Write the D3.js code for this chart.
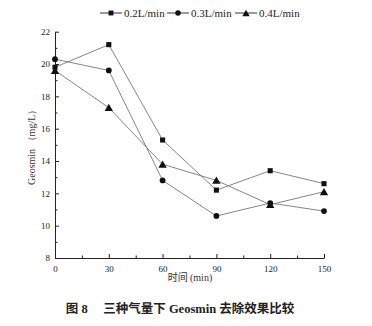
<!DOCTYPE html>
<html><head><meta charset="utf-8">
<script src="https://cdn.jsdelivr.net/npm/d3@7"></script>
<style>body{margin:0;background:#fff}svg{display:block}</style>
</head><body>
<script>
const times = [0, 30, 60, 90, 120, 150];
const seriesNames = ["0.2L/min", "0.3L/min", "0.4L/min"];
const s02 = [19.8, 21.2, 15.3, 12.2, 13.4, 12.6];
const s03 = [20.3, 19.6, 12.8, 10.6, 11.4, 10.9];
const s04 = [19.6, 17.3, 13.8, 12.8, 11.3, 12.1];
const symbols = [d3.symbolSquare, d3.symbolCircle, d3.symbolTriangle];
const yTicks = [8, 10, 12, 14, 16, 18, 20, 22];
const xTicks = [0, 30, 60, 90, 120, 150];
const series = [s02, s03, s04];

const W = 372, H = 326;
const svg = d3.select("body").append("svg").attr("width", W).attr("height", H);
const x = d3.scaleLinear().domain([0, 150]).range([55, 324]);
const y = d3.scaleLinear().domain([8, 22]).range([258, 31.7]);
const serif = "'Liberation Serif','Times New Roman',serif";
const cjk = "'Noto Sans CJK SC',sans-serif";

// axes
svg.append("g").attr("transform", `translate(0,${y(8)})`)
  .call(d3.axisBottom(x).tickValues(xTicks).tickSizeInner(-4).tickSizeOuter(0).tickPadding(8));
svg.append("g").attr("transform", `translate(0,${y(8)})`)
  .call(d3.axisBottom(x).tickValues(d3.range(15, 150, 30)).tickSizeInner(-2.5).tickSizeOuter(0).tickFormat(""))
  .select(".domain").remove();
const yAxis = svg.append("g").attr("transform", `translate(${x(0)},0)`)
  .call(d3.axisLeft(y).tickValues(yTicks).tickSizeInner(-4).tickSizeOuter(0).tickPadding(8));
svg.append("g").attr("transform", `translate(${x(0)},0)`)
  .call(d3.axisLeft(y).tickValues(d3.range(9, 22, 2)).tickSizeInner(-2.5).tickSizeOuter(0).tickFormat(""))
  .select(".domain").remove();
svg.selectAll(".tick text").attr("font-family", serif).attr("font-size", 9).attr("fill", "#222");
svg.selectAll(".domain, .tick line").attr("stroke", "#222").attr("stroke-width", 1);
yAxis.selectAll(".tick text").attr("dx", 3);

// lines
const line = d3.line().x((d, i) => x(times[i])).y(d => y(d));
series.forEach((s) => {
  svg.append("path").attr("d", line(s)).attr("fill", "none").attr("stroke", "#777").attr("stroke-width", 0.9);
});
series.forEach((s, k) => {
  const sym = d3.symbol().type(symbols[k]).size(k === 2 ? 30 : 26);
  svg.selectAll(null).data(s).enter().append("path")
    .attr("d", sym)
    .attr("transform", (d, i) => `translate(${x(times[i])},${y(d) + (k === 2 ? 1 : 0)})`)
    .attr("fill", "#111");
});

// legend
const legX = [100, 167, 235];
seriesNames.forEach((n, k) => {
  const g = svg.append("g").attr("transform", `translate(${legX[k]},13)`);
  g.append("line").attr("x1", 0).attr("x2", 22).attr("y1", 0).attr("y2", 0).attr("stroke", "#333").attr("stroke-width", 1);
  g.append("path").attr("d", d3.symbol().type(symbols[k]).size(24)).attr("transform", `translate(11,${k === 2 ? 1 : 0})`).attr("fill", "#111");
  g.append("text").attr("x", 24).attr("y", 4).attr("font-family", serif).attr("font-size", 11).attr("fill", "#222").text(n);
});

// axis titles
svg.append("text").attr("transform", `translate(35,${(y(8) + y(22)) / 2}) rotate(-90)`)
  .attr("text-anchor", "middle").attr("font-family", serif).attr("font-size", 10).attr("fill", "#333")
  .text("Geosmin （mg/L）");
const xt = svg.append("text").attr("x", 190).attr("y", 281).attr("text-anchor", "middle")
  .attr("font-size", 10).attr("fill", "#333");
xt.append("tspan").attr("font-family", cjk).text("时间 ");
xt.append("tspan").attr("font-family", serif).text("(min)");

// caption
const cap = svg.append("text").attr("x", 180).attr("y", 313).attr("text-anchor", "middle")
  .attr("font-weight", "bold").attr("font-size", 12.5).attr("fill", "#222").attr("xml:space", "preserve");
cap.append("tspan").attr("font-family", cjk).text("图");
cap.append("tspan").attr("font-family", serif).text(" 8     ");
cap.append("tspan").attr("font-family", cjk).text("三种气量下");
cap.append("tspan").attr("font-family", serif).text(" Geosmin ");
cap.append("tspan").attr("font-family", cjk).text("去除效果比较");
</script>
</body></html>
